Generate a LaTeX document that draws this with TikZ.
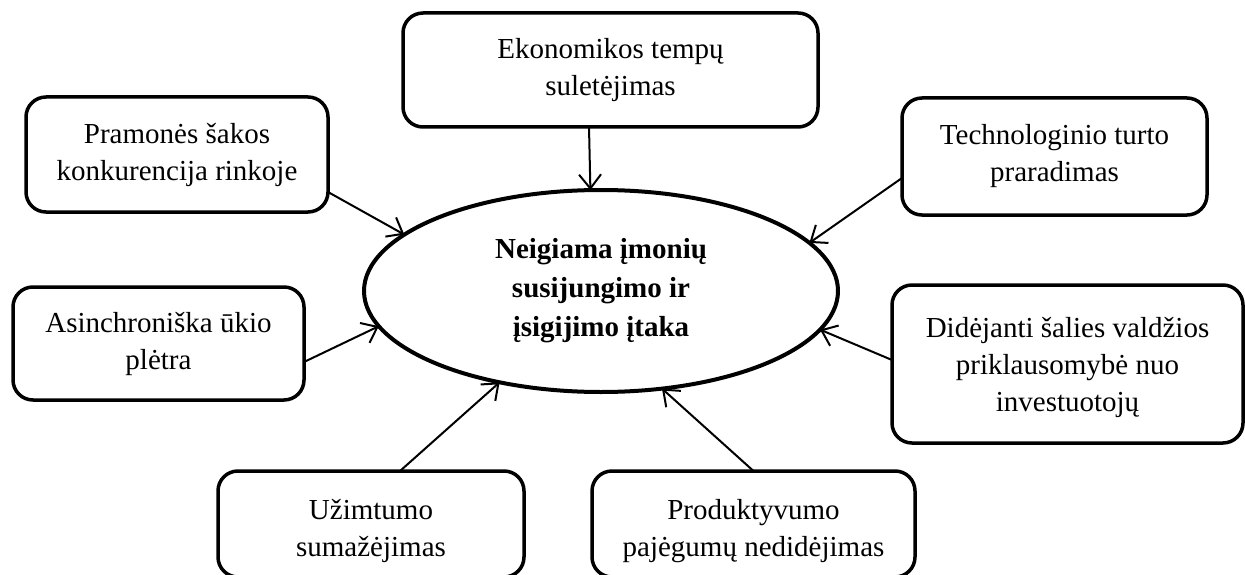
\documentclass[tikz,border=0pt]{standalone}
\usepackage{fontspec}
\setmainfont{Liberation Serif}
\usetikzlibrary{arrows.meta,calc,shapes.geometric}
\tikzset{
  cbox/.style={draw, line width=3.5pt, rounded corners=20pt, inner sep=0pt, outer sep=0pt,
    align=center, font=\fontsize{29}{37}\selectfont},
  cell/.style={draw, ellipse, line width=4pt, inner sep=0pt, outer sep=0pt,
    minimum width=474pt, minimum height=202pt, align=center,
    font=\fontsize{29}{39}\selectfont\bfseries},
  carr/.style={line width=2pt, -{Straight Barb[length=14pt,width=22pt,line width=2pt]}}
}
\begin{document}
\begin{tikzpicture}[x=1pt,y=-1pt]
\useasboundingbox (0,0) rectangle (1245,575);
\node[cell] (ell) at (601,291) {Neigiama įmonių\\susijungimo ir\\įsigijimo įtaka};
\node[cbox, minimum width=415pt, minimum height=114pt] (eko) at (610.5,70) {Ekonomikos tempų\\suletėjimas};
\node[cbox, minimum width=302pt, minimum height=115pt] (pram) at (177,154.5) {Pramonės šakos\\konkurencija rinkoje};
\node[cbox, minimum width=305pt, minimum height=117pt] (tech) at (1054.5,156.5) {Technologinio turto\\praradimas};
\node[cbox, minimum width=291pt, minimum height=113pt] (asin) at (158.5,343.5) {Asinchroniška ūkio\\plėtra};
\node[cbox, minimum width=351pt, minimum height=158pt] (did) at (1067.5,364) {\rule{0pt}{28pt}Didėjanti šalies valdžios\\priklausomybė nuo\\investuotojų};
\node[cbox, minimum width=306pt, minimum height=106pt] (uzi) at (371,524) {\rule{0pt}{34pt}Užimtumo\\sumažėjimas};
\node[cbox, minimum width=323pt, minimum height=106pt] (prod) at (753.5,524) {\rule{0pt}{34pt}Produktyvumo\\pajėgumų nedidėjimas};
\draw[carr] ($(eko.south)+(-21.5,0)$) -- (ell.96.8);
\draw[carr] ($(pram.east)+(0,37.5)$) -- (ell.164.3);
\draw[carr] ($(tech.west)+(0,21.5)$) -- (ell.13.1);
\draw[carr] ($(asin.east)+(0,18.5)$) -- (ell.189.5);
\draw[carr] ($(did.west)+(0,-4)$) -- (ell.350);
\draw[carr] ($(uzi.north)+(29,0)$) -- (ell.222.3);
\draw[carr] (prod.north) -- (ell.302.2);
\end{tikzpicture}
\end{document}
